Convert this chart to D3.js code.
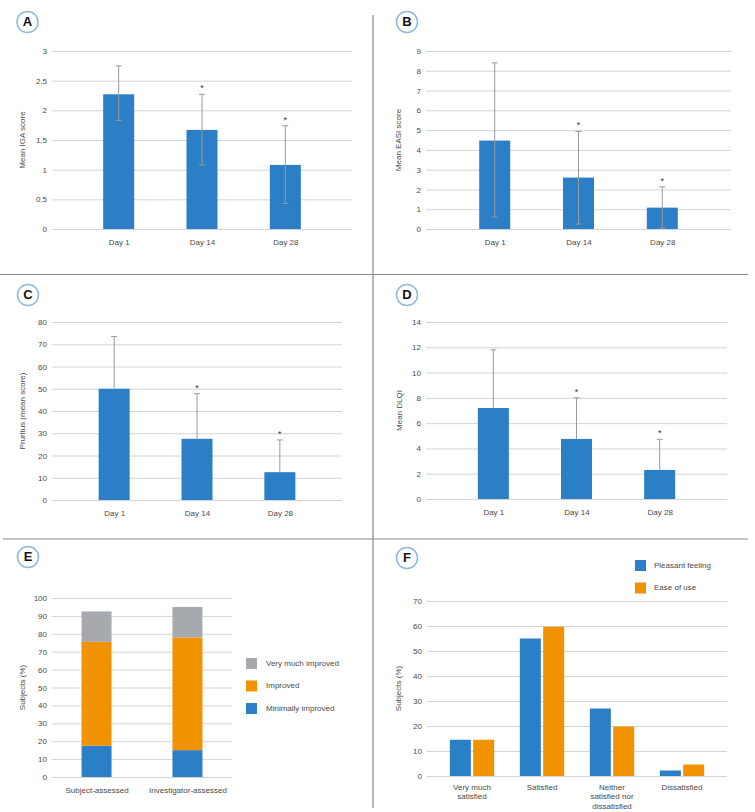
<!DOCTYPE html>
<html>
<head>
<meta charset="utf-8">
<script src="https://cdn.jsdelivr.net/npm/d3@7"></script>
<style>
  html, body { margin: 0; padding: 0; background: #fff; }
  svg { display: block; font-family: "Liberation Sans", Arial, sans-serif; }
</style>
</head>
<body>
<svg id="chart" width="755" height="812"></svg>
<script>
// ---------- DATA ----------
const days = ["Day 1", "Day 14", "Day 28"];
const significant = [false, true, true];

const igaMean  = [2.27, 1.67, 1.08];
const igaUpper = [2.75, 2.27, 1.74];
const igaLower = [1.83, 1.08, 0.43];
const igaTicks = [0, 0.5, 1, 1.5, 2, 2.5, 3];

const easiMean  = [4.47, 2.6, 1.08];
const easiUpper = [8.4, 4.93, 2.13];
const easiLower = [0.6, 0.25, 0.05];
const easiTicks = [0, 1, 2, 3, 4, 5, 6, 7, 8, 9];

const pruritusMean  = [50, 27.5, 12.5];
const pruritusUpper = [73.5, 47.8, 27];
const pruritusTicks = [0, 10, 20, 30, 40, 50, 60, 70, 80];

const dlqiMean  = [7.2, 4.75, 2.3];
const dlqiUpper = [11.8, 8.0, 4.72];
const dlqiTicks = [0, 2, 4, 6, 8, 10, 12, 14];

const assessments = ["Subject-assessed", "Investigator-assessed"];
const improvementLevels = ["Minimally improved", "Improved", "Very much improved"];
const minimallyImproved = [17.5, 15];
const improved = [58, 63];
const veryMuchImproved = [17, 17];
const improvementTicks = [0, 10, 20, 30, 40, 50, 60, 70, 80, 90, 100];

const satisfactionCats = [["Very much", "satisfied"], ["Satisfied"], ["Neither", "satisfied nor", "dissatisfied"], ["Dissatisfied"]];
const satisfactionSeries = ["Pleasant feeling", "Ease of use"];
const pleasantFeeling = [14.5, 55, 27, 2.2];
const easeOfUse = [14.5, 59.7, 19.8, 4.6];
const satisfactionTicks = [0, 10, 20, 30, 40, 50, 60, 70];

// ---------- STYLE ----------
const BLUE = "#2a7fc6", ORANGE = "#f19300", GREY = "#a6a9ae";
const GRID = "#d4d4d4", TXT = "#4a4a4a", ERR = "#9a9a9a", RING = "#8fb9da";
const FS = 8;

const svg = d3.select("#chart");
const fmtComma = v => String(v).replace(".", ",");

// ---------- DIVIDERS ----------
const div = svg.append("g").attr("stroke", "#8a8a8a").attr("stroke-width", 1.2);
div.append("line").attr("x1", 373).attr("x2", 373).attr("y1", 15).attr("y2", 808);
div.append("line").attr("x1", 0).attr("x2", 748).attr("y1", 274.5).attr("y2", 274.5);
div.append("line").attr("x1", 3).attr("x2", 748).attr("y1", 539).attr("y2", 539);

function badge(cx, cy, letter) {
  const g = svg.append("g");
  g.append("circle").attr("cx", cx).attr("cy", cy).attr("r", 10.5)
    .attr("fill", "#fff").attr("stroke", RING).attr("stroke-width", 1.5);
  g.append("text").attr("x", cx).attr("y", cy + 0.5).attr("text-anchor", "middle")
    .attr("dominant-baseline", "middle").attr("font-size", 13).attr("font-weight", "bold")
    .attr("fill", "#111").text(letter);
}

function yAxisGrid(g, y, ticks, x0, x1, fmt) {
  const axis = d3.axisLeft(y).tickValues(ticks).tickSize(-(x1 - x0)).tickPadding(5)
    .tickFormat(fmt || (d => d));
  const a = g.append("g").attr("transform", `translate(${x0},0)`).call(axis);
  a.select(".domain").remove();
  a.selectAll(".tick line").attr("stroke", GRID).attr("stroke-width", 1);
  a.selectAll(".tick text").attr("fill", TXT).attr("font-size", FS).attr("font-family", "Liberation Sans, Arial, sans-serif");
}

function yLabel(g, x, yMid, text) {
  g.append("text").attr("transform", `translate(${x},${yMid}) rotate(-90)`)
    .attr("text-anchor", "middle").attr("dominant-baseline", "middle")
    .attr("font-size", FS).attr("fill", TXT).text(text);
}

function barPanel(o) {
  const g = svg.append("g");
  const y = d3.scaleLinear().domain([0, o.ticks[o.ticks.length - 1]]).range([o.bottom, o.top]);
  const x = d3.scalePoint().domain(days).range([o.left, o.right]).padding(o.pad);
  yAxisGrid(g, y, o.ticks, o.left, o.right, o.fmt);
  yLabel(g, o.labelX, (o.top + o.bottom) / 2, o.label);
  const bw = 31;
  g.selectAll("rect.bar").data(days).join("rect").attr("class", "bar")
    .attr("x", d => x(d) - bw / 2).attr("width", bw)
    .attr("y", (d, i) => y(o.mean[i])).attr("height", (d, i) => y(0) - y(o.mean[i]))
    .attr("fill", BLUE);
  const eg = g.append("g").attr("stroke", ERR).attr("stroke-width", 1);
  days.forEach((d, i) => {
    const lo = o.lower ? o.lower[i] : o.mean[i];
    eg.append("line").attr("x1", x(d)).attr("x2", x(d)).attr("y1", y(o.upper[i])).attr("y2", y(lo));
    eg.append("line").attr("x1", x(d) - 3).attr("x2", x(d) + 3).attr("y1", y(o.upper[i])).attr("y2", y(o.upper[i]));
    if (o.lower) eg.append("line").attr("x1", x(d) - 3).attr("x2", x(d) + 3).attr("y1", y(lo)).attr("y2", y(lo));
    if (significant[i]) {
      g.append("text").attr("x", x(d)).attr("y", y(o.upper[i]) - 3).attr("text-anchor", "middle")
        .attr("font-size", 9).attr("fill", "#333").text("*");
    }
  });
  const xa = g.append("g").attr("transform", `translate(0,${o.bottom})`)
    .call(d3.axisBottom(x).tickSize(0).tickPadding(10));
  xa.select(".domain").remove();
  xa.selectAll(".tick text").attr("fill", TXT).attr("font-size", FS).attr("font-family", "Liberation Sans, Arial, sans-serif");
}

// ---------- PANELS A-D ----------
badge(27.5, 22, "A");
barPanel({ left: 52, right: 352, top: 51, bottom: 229, pad: 0.8, ticks: igaTicks, fmt: fmtComma,
  mean: igaMean, upper: igaUpper, lower: igaLower, label: "Mean IGA score", labelX: 23 });
badge(407, 22, "B");
barPanel({ left: 426, right: 731, top: 51, bottom: 229, pad: 0.82, ticks: easiTicks,
  mean: easiMean, upper: easiUpper, lower: easiLower, label: "Mean EASI score", labelX: 399 });
badge(28, 295, "C");
barPanel({ left: 52, right: 342, top: 322, bottom: 500, pad: 0.75, ticks: pruritusTicks,
  mean: pruritusMean, upper: pruritusUpper, lower: null, label: "Pruritus (mean score)", labelX: 23 });
badge(407, 295, "D");
barPanel({ left: 426, right: 727, top: 322, bottom: 499, pad: 0.81, ticks: dlqiTicks,
  mean: dlqiMean, upper: dlqiUpper, lower: null, label: "Mean DLQI", labelX: 400 });

// ---------- PANEL E (stacked) ----------
badge(28, 557, "E");
{
  const g = svg.append("g");
  const left = 52, right = 232, top = 598, bottom = 777;
  const y = d3.scaleLinear().domain([0, 100]).range([bottom, top]);
  const x = d3.scalePoint().domain(assessments).range([left, right]).padding(0.49);
  yAxisGrid(g, y, improvementTicks, left, right);
  yLabel(g, 23, (top + bottom) / 2, "Subjects (%)");
  const rows = assessments.map((a, i) => ({ key: a, "Minimally improved": minimallyImproved[i],
    "Improved": improved[i], "Very much improved": veryMuchImproved[i] }));
  const stack = d3.stack().keys(improvementLevels)(rows);
  const colors = { "Minimally improved": BLUE, "Improved": ORANGE, "Very much improved": GREY };
  const bw = 30;
  stack.forEach(layer => {
    g.selectAll(null).data(layer).join("rect")
      .attr("x", d => x(d.data.key) - bw / 2).attr("width", bw)
      .attr("y", d => y(d[1])).attr("height", d => y(d[0]) - y(d[1]))
      .attr("fill", colors[layer.key]);
  });
  const xa = g.append("g").attr("transform", `translate(0,${bottom})`)
    .call(d3.axisBottom(x).tickSize(0).tickPadding(10));
  xa.select(".domain").remove();
  xa.selectAll(".tick text").attr("fill", TXT).attr("font-size", FS).attr("font-family", "Liberation Sans, Arial, sans-serif");
  const legendOrder = ["Very much improved", "Improved", "Minimally improved"];
  const lg = g.append("g");
  legendOrder.forEach((k, i) => {
    const ly = 658 + i * 22.5;
    lg.append("rect").attr("x", 246).attr("y", ly).attr("width", 11).attr("height", 11).attr("fill", colors[k]);
    lg.append("text").attr("x", 266).attr("y", ly + 5.5).attr("dominant-baseline", "middle")
      .attr("font-size", FS).attr("fill", TXT).text(k);
  });
}

// ---------- PANEL F (grouped) ----------
badge(407, 558, "F");
{
  const g = svg.append("g");
  const left = 427, right = 727, top = 601, bottom = 776;
  const y = d3.scaleLinear().domain([0, 70]).range([bottom, top]);
  const catKeys = satisfactionCats.map(c => c.join(" "));
  const x0 = d3.scaleBand().domain(catKeys).range([left, right]).paddingInner(0).paddingOuter(0.143);
  const x1 = d3.scaleBand().domain(satisfactionSeries).range([0, x0.bandwidth()]).paddingInner(0.1).paddingOuter(0.55);
  yAxisGrid(g, y, satisfactionTicks, left, right);
  yLabel(g, 399, (top + bottom) / 2, "Subjects (%)");
  const vals = { "Pleasant feeling": pleasantFeeling, "Ease of use": easeOfUse };
  const colors = { "Pleasant feeling": BLUE, "Ease of use": ORANGE };
  satisfactionSeries.forEach(s => {
    g.selectAll(null).data(catKeys).join("rect")
      .attr("x", d => x0(d) + x1(s)).attr("width", x1.bandwidth())
      .attr("y", (d, i) => y(vals[s][i])).attr("height", (d, i) => y(0) - y(vals[s][i]))
      .attr("fill", colors[s]);
  });
  satisfactionCats.forEach((lines, i) => {
    const t = g.append("text").attr("x", x0(catKeys[i]) + x0.bandwidth() / 2).attr("y", bottom + 14)
      .attr("text-anchor", "middle").attr("font-size", FS).attr("fill", TXT);
    lines.forEach((ln, j) => t.append("tspan").attr("x", x0(catKeys[i]) + x0.bandwidth() / 2)
      .attr("dy", j === 0 ? 0 : 9.3).text(ln));
  });
  satisfactionSeries.forEach((s, i) => {
    const ly = 560 + i * 22.5;
    g.append("rect").attr("x", 635).attr("y", ly).attr("width", 11).attr("height", 11).attr("fill", colors[s]);
    g.append("text").attr("x", 654).attr("y", ly + 5.5).attr("dominant-baseline", "middle")
      .attr("font-size", FS).attr("fill", TXT).text(s);
  });
}
</script>
</body>
</html>
